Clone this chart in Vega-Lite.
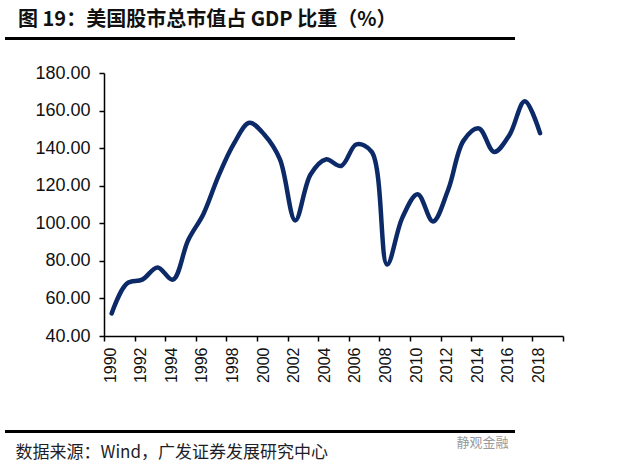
{
  "$schema": "https://vega.github.io/schema/vega-lite/v6.json",
  "autosize": {"type": "none"},
  "width": 459,
  "height": 263,
  "padding": {"left": 104, "top": 73, "right": 58, "bottom": 133},
  "background": "white",
  "title": {
    "text": "图 19：美国股市总市值占 GDP 比重（%）",
    "anchor": "start",
    "frame": "group",
    "dx": -86,
    "offset": 7,
    "font": "Noto Sans CJK SC",
    "fontSize": 20,
    "fontWeight": "bold",
    "color": "#111111"
  },
  "config": {
    "view": {"stroke": null},
    "axis": {"grid": false, "labelOverlap": false, "domainColor": "#000000", "tickColor": "#000000", "domainWidth": 1.5, "tickWidth": 1.5, "tickSize": 5, "labelColor": "#111111", "labelFont": "Liberation Sans"}
  },
  "data": {
    "values": [
      {"year": 1990, "ratio": 52},
      {"year": 1991, "ratio": 68},
      {"year": 1992, "ratio": 70},
      {"year": 1993, "ratio": 76.5},
      {"year": 1994, "ratio": 70},
      {"year": 1995, "ratio": 91},
      {"year": 1996, "ratio": 105},
      {"year": 1997, "ratio": 125.5},
      {"year": 1998, "ratio": 142.5},
      {"year": 1999, "ratio": 153.5},
      {"year": 2000, "ratio": 147},
      {"year": 2001, "ratio": 134},
      {"year": 2002, "ratio": 101.5},
      {"year": 2003, "ratio": 126},
      {"year": 2004, "ratio": 134},
      {"year": 2005, "ratio": 130.5},
      {"year": 2006, "ratio": 142},
      {"year": 2007, "ratio": 138},
      {"year": 2008, "ratio": 78},
      {"year": 2009, "ratio": 103},
      {"year": 2010, "ratio": 115.5},
      {"year": 2011, "ratio": 101},
      {"year": 2012, "ratio": 118},
      {"year": 2013, "ratio": 144},
      {"year": 2014, "ratio": 150.5},
      {"year": 2015, "ratio": 138},
      {"year": 2016, "ratio": 147},
      {"year": 2017, "ratio": 165},
      {"year": 2018, "ratio": 148}
    ]
  },
  "layer": [
    {
      "mark": {"type": "line", "interpolate": "catmull-rom", "color": "#0d2a68", "strokeWidth": 4.5, "strokeCap": "round"},
      "encoding": {
        "x": {
          "field": "year",
          "type": "quantitative",
          "scale": {"domain": [1989.5, 2019.5], "nice": false, "zero": false},
          "axis": {
            "values": [1989.5, 1991.5, 1993.5, 1995.5, 1997.5, 1999.5, 2001.5, 2003.5, 2005.5, 2007.5, 2009.5, 2011.5, 2013.5, 2015.5, 2017.5, 2019.5],
            "tickCount": 100,
            "labelExpr": "datum.value < 2019 ? toString(datum.value + 0.5) : ''",
            "labelAngle": 270,
            "labelAlign": "right",
            "labelBaseline": "middle",
            "labelOffset": 6,
            "labelPadding": 6,
            "labelFontSize": 16,
            "labelOverlap": false,
            "labelFlush": false,
            "labelBound": false,
            "title": "数据来源：Wind，广发证券发展研究中心",
            "titleFont": "Noto Sans CJK SC",
            "titleFontSize": 17,
            "titleFontWeight": "normal",
            "titleColor": "#1e1e28",
            "titleAlign": "left",
            "titleBaseline": "middle",
            "titleX": -89,
            "titleY": 116
          }
        },
        "y": {
          "field": "ratio",
          "type": "quantitative",
          "scale": {"domain": [40, 180], "nice": false, "zero": false},
          "axis": {
            "values": [40, 60, 80, 100, 120, 140, 160, 180],
            "tickCount": 100,
            "format": ".2f",
            "labelFontSize": 18,
            "labelPadding": 9,
            "labelOverlap": false,
            "labelFlush": false,
            "labelBound": false,
            "title": "静观金融",
            "titleAngle": 0,
            "titleFont": "Noto Sans CJK SC",
            "titleFontSize": 13,
            "titleFontWeight": "normal",
            "titleColor": "#9a9a9a",
            "titleAlign": "left",
            "titleBaseline": "middle",
            "titleX": 352,
            "titleY": 369
          }
        }
      }
    },
    {
      "mark": {"type": "rule", "color": "#000000", "strokeWidth": 2.5, "clip": false},
      "encoding": {
        "x": {"datum": 1983.03},
        "x2": {"datum": 2016.36},
        "y": {"datum": 198.4}
      }
    },
    {
      "mark": {"type": "rule", "color": "#000000", "strokeWidth": 2.5, "clip": false},
      "encoding": {
        "x": {"datum": 1983.03},
        "x2": {"datum": 2016.36},
        "y": {"datum": -10.8}
      }
    }
  ]
}
